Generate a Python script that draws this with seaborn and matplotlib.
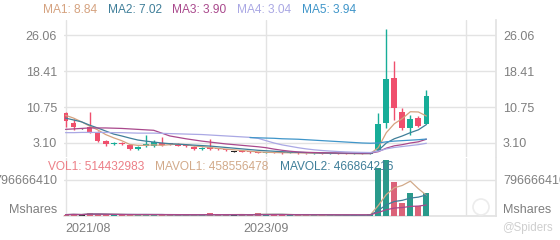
import numpy as np
import pandas as pd
import matplotlib
matplotlib.use("Agg")
import matplotlib.pyplot as plt
import seaborn as sns
from matplotlib.patches import Ellipse

# ---------------- data ----------------
months = ["2021/08", "2023/09", ""]          # x tick labels at candle 0, 25, 50
month_ticks = [0, 25, 50]

opens = [9.48, 7.36, 6.08, 6.50, 5.44, 3.53, 2.80, 3.00, 2.67, 1.76,
         2.40, 2.46, 3.10, 2.90, 2.80, 2.55, 2.31, 1.80, 2.20, 1.90,
         1.75, 1.25, 1.40, 1.20, 1.10, 1.05, 1.10, 1.00, 0.95, 1.05,
         0.92, 0.88, 0.92, 0.85, 0.88, 0.80, 0.78, 0.84, 0.80, 1.70,
         7.36, 16.93, 9.70, 6.29, 8.42, 7.14]
highs = [9.60, 8.20, 6.20, 9.70, 5.60, 3.74, 3.30, 3.30, 2.90, 2.40,
         4.70, 3.74, 4.45, 3.10, 3.00, 2.80, 2.50, 2.30, 3.90, 2.10,
         1.90, 1.30, 1.50, 1.35, 1.25, 1.20, 1.20, 1.10, 1.15, 1.10,
         1.00, 1.00, 1.00, 0.95, 0.95, 0.90, 0.88, 0.92, 1.05, 9.48,
         27.40, 20.55, 10.55, 9.06, 8.84, 14.38]
lows = [6.50, 5.90, 6.00, 5.23, 3.31, 2.46, 2.60, 2.60, 1.61, 1.60,
        2.30, 2.30, 2.50, 2.60, 2.40, 2.30, 1.60, 1.70, 1.70, 1.60,
        1.40, 1.15, 1.10, 1.00, 0.95, 0.95, 0.90, 0.85, 0.90, 0.85,
        0.80, 0.80, 0.82, 0.78, 0.75, 0.72, 0.72, 0.75, 0.78, 1.55,
        6.30, 7.99, 5.90, 4.80, 6.50, 7.14]
closes = [7.78, 6.50, 6.08, 5.44, 3.53, 2.89, 3.00, 2.85, 1.82, 2.31,
          2.95, 3.38, 2.67, 2.80, 2.55, 2.45, 1.76, 2.10, 1.85, 1.75,
          1.55, 1.25, 1.20, 1.10, 1.05, 1.10, 1.00, 0.95, 1.05, 0.92,
          0.88, 0.92, 0.85, 0.88, 0.80, 0.78, 0.84, 0.80, 0.98, 7.14,
          16.72, 10.55, 6.29, 8.21, 6.72, 13.10]
volumes = [30e6, 40e6, 25e6, 70e6, 45e6, 25e6, 20e6, 20e6, 30e6, 25e6,
           35e6, 30e6, 25e6, 20e6, 18e6, 18e6, 22e6, 20e6, 65e6, 25e6,
           20e6, 25e6, 30e6, 40e6, 60e6, 35e6, 30e6, 25e6, 20e6, 22e6,
           20e6, 18e6, 20e6, 18e6, 15e6, 18e6, 15e6, 20e6, 40e6, 1062000000,
           1238859770, 760000000, 280000000, 517349407, 221000000, 514432983]

ma1 = [9.0, 8.4, 7.6, 6.7, 5.9, 4.9, 4.2, 3.6, 2.8, 2.6,
       2.6, 2.7, 2.6, 2.75, 2.85, 2.75, 2.45, 2.35, 2.15, 1.95,
       1.8, 1.65, 1.5, 1.35, 1.2, 1.12, 1.08, 1.04, 1.02, 1.0,
       0.97, 0.94, 0.91, 0.89, 0.87, 0.85, 0.83, 0.82, 0.84, 2.1,
       5.3, 7.2, 8.3, 9.75, 9.7, 8.84]
ma2 = [8.4, 8.0, 7.6, 6.9, 6.3, 5.65, 5.0, 4.6, 4.15, 3.74,
       3.5, 3.3, 3.1, 2.95, 2.85, 2.75, 2.65, 2.55, 2.45, 2.3,
       2.15, 2.0, 1.85, 1.7, 1.55, 1.45, 1.35, 1.25, 1.18, 1.12,
       1.06, 1.02, 0.98, 0.95, 0.92, 0.9, 0.88, 0.86, 0.86, 1.5,
       3.1, 4.0, 4.6, 5.3, 5.9, 7.02]
ma3 = [6.0, 6.1, 6.2, 6.3, 6.3, 6.3, 6.25, 6.2, 6.1, 6.0,
       5.9, 5.8, 5.2, 4.6, 4.3, 4.0, 3.75, 3.5, 3.3, 3.1,
       2.9, 2.75, 2.6, 2.45, 2.3, 2.1, 1.8, 1.55, 1.35, 1.2,
       1.12, 1.07, 1.03, 1.0, 0.98, 0.96, 0.95, 0.94, 0.94, 1.25,
       2.0, 2.5, 2.75, 3.1, 3.35, 3.90]
ma4 = [5.3, 5.3, 5.35, 5.35, 5.35, 5.35, 5.3, 5.3, 5.25, 5.2,
       5.2, 5.2, 5.15, 5.1, 5.05, 5.0, 4.95, 4.9, 4.8, 4.7,
       4.6, 4.5, 4.4, 4.3, 4.1, 3.6, 3.1, 2.7, 2.4, 2.1,
       1.85, 1.65, 1.5, 1.38, 1.28, 1.2, 1.14, 1.1, 1.07, 1.35,
       1.85, 2.15, 2.35, 2.55, 2.75, 3.04]
ma5 = [np.nan] * 23 + [4.25, 4.2, 4.15, 4.1, 4.0, 3.95, 3.9, 3.8, 3.7, 3.6,
                       3.5, 3.4, 3.3, 3.2, 3.1, 3.05, 3.1, 3.35, 3.5, 3.6,
                       3.7, 3.8, 3.94]

price_ticks = [3.10, 10.75, 18.41, 26.06]
vol_ticks = [0, 796666410]
vol_tick_labels = ["Mshares", "796666410"]

# ---------------- styling ----------------
sns.set_theme(style="white")
plt.rcParams['font.family'] = ['Liberation Sans', 'DejaVu Sans']

GREEN = "#17ad98"
RED = "#ef4f6d"
GRID = "#e3e3e3"
TICK = "#7f7f7f"
ma_colors = ["#d5a27f", "#3f7e99", "#a9488c", "#aaa8e4", "#3f95c9"]
vol_ma_colors = ["#d2aa8a", "#3f7e99", "#a9488c"]

df = pd.DataFrame({"i": np.arange(len(closes)), "o": opens, "h": highs,
                   "l": lows, "c": closes, "v": volumes})
df["dir"] = np.where(df.c > df.o, "up", np.where(df.c < df.o, "down", "flat"))
col_map = {"up": GREEN, "down": RED, "flat": "#222222"}
df["col"] = df["dir"].map(col_map)

fig = plt.figure(figsize=(5.6, 2.4), dpi=100)
W, H = 560, 240
L, R = 64, 496
axp = fig.add_axes([L / W, 1 - 157 / H, (R - L) / W, (157 - 20) / H])
axv = fig.add_axes([L / W, 1 - 216 / H, (R - L) / W, (216 - 158) / H])

xlim = (-0.19, 53.68)

# ---- price panel ----
axp.vlines(df.i, df.l, df.h, colors=df.col, lw=1.0, zorder=3)
body_h = np.maximum((df.c - df.o).abs(), 0.2)
body_b = np.where(df.dir == "flat", df.o - 0.1, np.minimum(df.o, df.c))
axp.bar(df.i, body_h, bottom=body_b, width=0.72, color=df.col, linewidth=0, zorder=4)

for ma, colr in zip([ma1, ma2, ma3, ma4, ma5], ma_colors):
    sns.lineplot(x=df.i, y=ma, ax=axp, color=colr, lw=0.9, zorder=5)

axp.set_xlim(*xlim)
axp.set_ylim(0.12, 29.27)
axp.set_yticks(price_ticks)
axp.set_yticklabels([f"{t:.2f}" for t in price_ticks])
axp.set_xticks(month_ticks)
axp.set_xticklabels([])
axp.tick_params(axis="y", labelleft=True, labelright=True, length=0, pad=5,
                labelsize=9, labelcolor=TICK)
axp.tick_params(axis="x", length=0)
axp.grid(True, color=GRID, lw=1)
axp.set_xlabel("")
axp.set_ylabel("")
for s in axp.spines.values():
    s.set_visible(False)
axp.spines["right"].set_visible(True)
axp.spines["right"].set_color(GRID)

# ---- volume panel ----
sns.barplot(data=df, x="i", y="v", hue="dir", palette=col_map, native_scale=True,
            width=0.75, dodge=False, legend=False, ax=axv, linewidth=0, zorder=3)
vol_mas = []
for win, colr in zip([5, 10, 20], vol_ma_colors):
    m = df.v.rolling(win, min_periods=1).mean()
    vol_mas.append(m)
    sns.lineplot(x=df.i, y=m, ax=axv, color=colr, lw=0.9, zorder=5)

axv.set_xlim(*xlim)
axv.set_ylim(0, 1283e6)
axv.set_yticks(vol_ticks)
axv.set_yticklabels(vol_tick_labels)
axv.set_xticks(month_ticks)
axv.set_xticklabels(months)
axv.get_xticklabels()[0].set_ha("left")
axv.tick_params(axis="y", labelleft=True, labelright=True, length=0, pad=5,
                labelsize=9, labelcolor=TICK)
for lab in axv.get_yticklabels():
    if lab.get_text() == "Mshares":
        lab.set_va("bottom")
axv.tick_params(axis="x", length=0, pad=5, labelsize=9, labelcolor=TICK)
axv.grid(True, color=GRID, lw=1)
axv.set_xlabel("")
axv.set_ylabel("")
for s in axv.spines.values():
    s.set_visible(False)
for side in ["right", "bottom"]:
    axv.spines[side].set_visible(True)
    axv.spines[side].set_color(GRID)

# ---- legends (text) ----
fs = 8.6
ma_x = [43, 108, 172, 237, 302]
for k, (ma, colr, x) in enumerate(zip([ma1, ma2, ma3, ma4, ma5], ma_colors, ma_x)):
    fig.text(x / W, 1 - 10 / H, f"MA{k + 1}: {ma[-1]:.2f}", color=colr,
             fontsize=fs, va="center", ha="left")

fig.text(48 / W, 1 - 166.5 / H, f"VOL1: {df.v.iloc[-1]:.0f}", color="#ec7f87",
         fontsize=fs, va="center", ha="left", zorder=10)
fig.text(155 / W, 1 - 166.5 / H, f"MAVOL1: {vol_mas[0].iloc[-1]:.0f}", color="#d2aa8a",
         fontsize=fs, va="center", ha="left", zorder=10)
fig.text(280 / W, 1 - 166.5 / H, f"MAVOL2: {vol_mas[1].iloc[-1]:.0f}", color="#3f7e99",
         fontsize=fs, va="center", ha="left", zorder=10)

# watermark
fig.add_artist(Ellipse((481 / W, 1 - 207 / H), 16 / W, 16 / H, fill=False,
                       ec="#ececec", lw=1.2))
fig.text(527 / W, 1 - 228 / H, "@Spiders", color="#cfcfcf", fontsize=8.3,
         ha="center", va="center")

fig.savefig("out.png", dpi=100)
